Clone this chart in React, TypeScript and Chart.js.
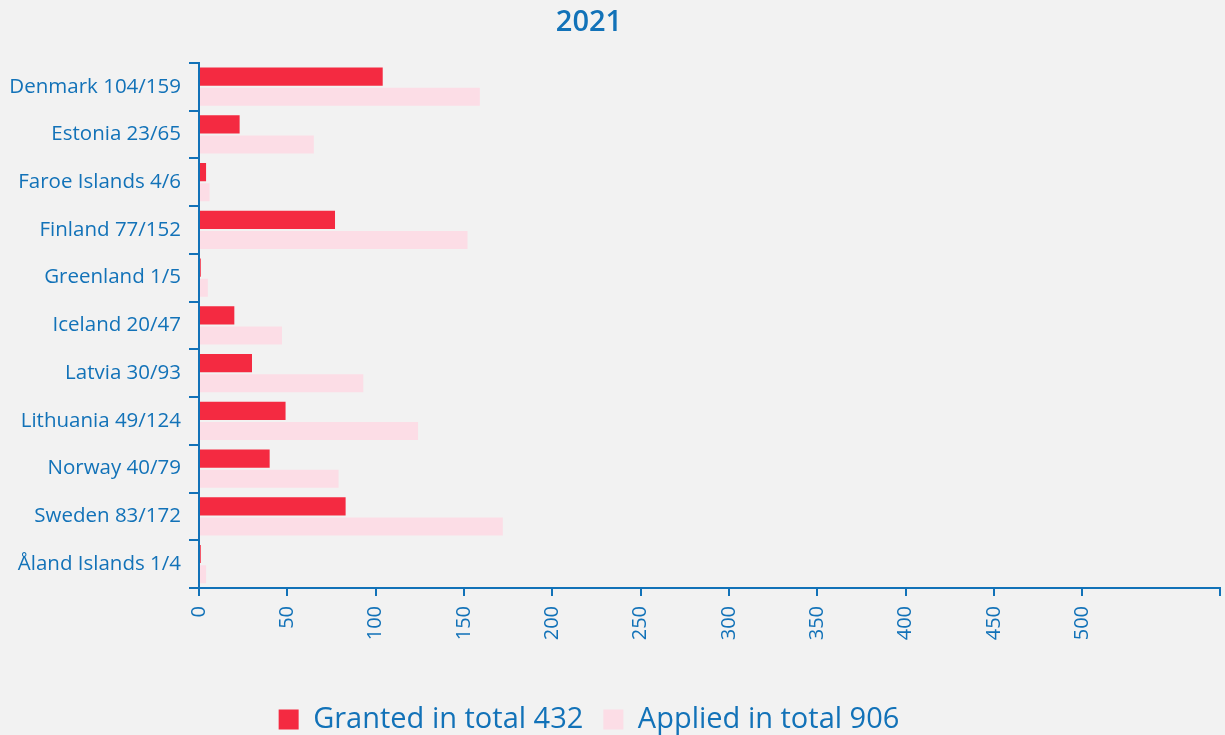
import React, { useEffect, useRef } from "react";
import { Chart, registerables } from "chart.js";

Chart.register(...registerables);

const countries = [
  "Denmark 104/159",
  "Estonia 23/65",
  "Faroe Islands 4/6",
  "Finland 77/152",
  "Greenland 1/5",
  "Iceland 20/47",
  "Latvia 30/93",
  "Lithuania 49/124",
  "Norway 40/79",
  "Sweden 83/172",
  "Åland Islands 1/4",
];
const granted = [104, 23, 4, 77, 1, 20, 30, 49, 40, 83, 1];
const applied = [159, 65, 6, 152, 5, 47, 93, 124, 79, 172, 4];
const seriesNames = ["Granted in total 432", "Applied in total 906"];
const xTickValues = [0, 50, 100, 150, 200, 250, 300, 350, 400, 450, 500];
const xMax = 578;

const BLUE = "#1272b8";
const RED = "#f42a41";
const PINK = "#fcdde6";
const FONT = "'Open Sans', sans-serif";

export default function App() {
  const ref = useRef<HTMLCanvasElement | null>(null);

  useEffect(() => {
    document.body.style.margin = "0";
    document.body.style.overflow = "hidden";
    document.body.style.background = "#f2f2f2";
    const ctx = ref.current;
    if (!ctx) return;
    const chart = new Chart(ctx, {
      type: "bar",
      data: {
        labels: countries,
        datasets: [
          {
            label: seriesNames[0],
            data: granted,
            backgroundColor: RED,
            barPercentage: 0.9,
            categoryPercentage: 0.84,
          },
          {
            label: seriesNames[1],
            data: applied,
            backgroundColor: PINK,
            barPercentage: 0.9,
            categoryPercentage: 0.84,
          },
        ],
      },
      options: {
        indexAxis: "y",
        animation: false,
        responsive: false,
        maintainAspectRatio: false,
        layout: { padding: { left: 0, right: 5, top: 0, bottom: -9 } },
        plugins: {
          title: {
            display: true,
            text: "2021",
            color: BLUE,
            font: { family: FONT, size: 29, weight: "600" },
            padding: { top: 5, bottom: 23 },
          },
          legend: {
            position: "bottom",
            labels: {
              color: BLUE,
              font: { family: FONT, size: 29 },
              boxWidth: 20,
              boxHeight: 20,
              padding: 20,
            },
          },
          tooltip: { enabled: false },
        },
        scales: {
          x: {
            type: "linear",
            min: 0,
            max: xMax,
            afterBuildTicks: (scale: any) => {
              scale.ticks = [...xTickValues, xMax].map((v) => ({ value: v }));
            },
            afterFit: (scale: any) => {
              scale.height = 97;
              scale.paddingRight = 0;
              scale.paddingLeft = 0;
            },
            border: { display: true, color: BLUE, width: 2 },
            grid: {
              display: true,
              drawOnChartArea: false,
              drawTicks: true,
              tickLength: 8,
              color: BLUE,
              lineWidth: 2,
            },
            ticks: {
              color: BLUE,
              font: { family: FONT, size: 20 },
              minRotation: 90,
              maxRotation: 90,
              padding: 10,
              autoSkip: false,
              callback: (v: any) => (xTickValues.includes(Number(v)) ? String(v) : ""),
            },
          },
          y: {
            afterFit: (scale: any) => {
              scale.width = 241;
            },
            border: { display: true, color: BLUE, width: 2 },
            grid: {
              display: true,
              offset: true,
              drawOnChartArea: false,
              drawTicks: true,
              tickLength: 10,
              color: BLUE,
              lineWidth: 2,
            },
            ticks: {
              color: BLUE,
              font: { family: FONT, size: 20.5 },
              padding: 8,
              autoSkip: false,
            },
          },
        },
      },
    });
    return () => chart.destroy();
  }, []);

  return (
    <div style={{ width: 1225, height: 735, overflow: "hidden", position: "relative", background: "#f2f2f2" }}>
      <canvas
        ref={ref}
        width={1267}
        height={735}
        style={{ position: "absolute", left: -42, top: 0, width: 1267, height: 735 }}
      />
    </div>
  );
}
